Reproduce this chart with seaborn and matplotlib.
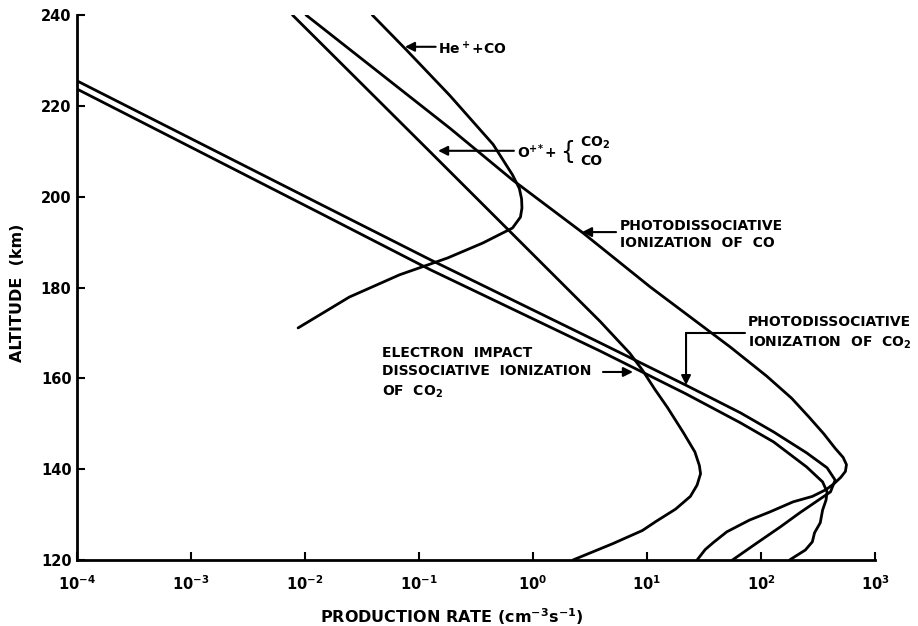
import numpy as np
import pandas as pd
import matplotlib
matplotlib.use("Agg")
import matplotlib.pyplot as plt
import seaborn as sns
from matplotlib.ticker import NullLocator

# production rates (cm^-3 s^-1) vs altitude (km)
he_rate = [0.0389, 0.0776, 0.186, 0.447, 0.661, 0.759, 0.794, 0.80, 0.776, 0.661, 0.363, 0.178, 0.0676, 0.0245, 0.0087]
he_alt = [240, 232.3, 222.3, 211.5, 204.8, 201.8, 199.5, 197.5, 195.5, 193.1, 189.8, 186.5, 182.8, 177.9, 171.1]

op_rate = [0.00776, 0.126, 3.89, 7.08, 9.12, 11.7, 15.1, 20.9, 26.3, 28.8, 29.5, 27.5, 24.0, 17.8, 12.0, 9.12, 5.01, 2.24]
op_alt = [240, 209.8, 172.5, 165.5, 161.8, 157.6, 153.6, 148.0, 143.8, 140.8, 139.0, 136.5, 134.0, 131.2, 128.5, 126.5, 123.6, 120]

co_rate = [0.0102, 0.186, 0.66, 2.75, 10.7, 53.7, 112, 186, 263, 355, 447, 525, 562, 550, 501, 437, 372,
           282, 191, 120, 79.4, 50.1, 38.0, 32.4, 27.5]
co_alt = [240, 215.1, 203.7, 192.0, 180.1, 166.9, 160.5, 155.6, 151.5, 147.8, 144.6, 142.6, 141.0, 139.5, 138.2, 136.8, 135.5,
          134.0, 132.8, 130.6, 128.8, 126.2, 123.8, 122.3, 120]

pco2_rate = [1e-4, 0.0135, 0.126, 3.89, 21.9, 66.1, 129, 251, 380, 447, 407, 219, 148, 89.1, 56.2]
pco2_alt = [225.5, 198.4, 186.1, 167.8, 158.5, 152.4, 148.2, 143.6, 140.3, 137.6, 135.0, 130.4, 127.3, 123.5, 120]

ei_rate = [1e-4, 0.0135, 0.126, 3.89, 21.9, 66.1, 129, 251, 347, 380, 372, 347, 331, 295, 282, 245, 178]
ei_alt = [223.7, 196.4, 183.9, 166.0, 156.6, 150.2, 146.0, 140.5, 137.2, 135.0, 133.2, 131.0, 128.2, 126.0, 124.0, 122.2, 120]

xticks = [1e-4, 1e-3, 1e-2, 1e-1, 1e0, 1e1, 1e2, 1e3]
yticks = [120, 140, 160, 180, 200, 220, 240]

curves = {
    "He+ + CO": (he_rate, he_alt),
    "O+ + CO2/CO": (op_rate, op_alt),
    "photodiss CO": (co_rate, co_alt),
    "photodiss CO2": (pco2_rate, pco2_alt),
    "e impact CO2": (ei_rate, ei_alt),
}
frames = []
for name, (rate, alt) in curves.items():
    frames.append(pd.DataFrame({"curve": name, "rate": rate, "alt": alt}))
df = pd.concat(frames, ignore_index=True)

sns.set_theme(style="ticks")
plt.rcParams["font.family"] = ["DejaVu Sans"]
plt.rcParams["font.weight"] = "bold"
plt.rcParams["text.color"] = "black"
plt.rcParams["axes.labelcolor"] = "black"
plt.rcParams["mathtext.fontset"] = "custom"
plt.rcParams["mathtext.rm"] = "DejaVu Sans:bold"
plt.rcParams["mathtext.it"] = "DejaVu Sans:bold"
plt.rcParams["mathtext.bf"] = "DejaVu Sans:bold"

fig = plt.figure(figsize=(9.18, 6.26), dpi=100)
ax = fig.add_axes([77 / 918, 1 - 560 / 626, 798 / 918, 545 / 626])
sns.lineplot(data=df, x="rate", y="alt", units="curve", estimator=None, sort=False,
             color="black", lw=2, ax=ax, legend=False)
ax.set_xscale("log")
ax.set_xlim(1e-4, 1e3)
ax.set_ylim(120, 240)
sns.despine(ax=ax)
for s in ["left", "bottom"]:
    ax.spines[s].set_linewidth(2)
    ax.spines[s].set_color("black")
ax.set_xticks(xticks)
ax.set_xticklabels([f"$10^{{{int(np.log10(v))}}}$" for v in xticks])
ax.xaxis.set_minor_locator(NullLocator())
ax.set_yticks(yticks)
ax.tick_params(axis="both", direction="in", length=6, width=1.5, labelsize=10.5, colors="black")
ax.tick_params(axis="x", pad=10)
ax.tick_params(axis="y", pad=4)

ax.set_xlabel("PRODUCTION RATE (cm$^{-3}$s$^{-1}$)", fontsize=11.5, fontweight="bold",
              va="center", ha="center")
ax.xaxis.set_label_coords(0.47, -0.1046)
ax.set_ylabel("ALTITUDE  (km)", fontsize=11.5, fontweight="bold", va="center", ha="center")
ax.yaxis.set_label_coords(-0.075, 0.49)

arrow = dict(arrowstyle="-|>", color="black", lw=1.5, mutation_scale=14, shrinkA=0, shrinkB=0)
fs = 10

# He+ + CO
ax.annotate("", xy=(0.0753, 233.0), xytext=(0.14, 233.0), arrowprops=arrow)
ax.text(0.147, 232.7, "He$^+$+CO", ha="left", va="center", fontsize=fs)

# O+ + {CO2, CO}
ax.annotate("", xy=(0.147, 210.1), xytext=(0.68, 210.1), arrowprops=arrow)
ax.text(0.724, 209.8, "O$^{+\\!*}$+", ha="left", va="center", fontsize=fs)
ax.text(1.72, 209.8, "{", ha="left", va="center", fontsize=17, fontweight="normal")
ax.text(2.6, 211.8, "CO$_2$", ha="left", va="center", fontsize=fs)
ax.text(2.6, 207.8, "CO", ha="left", va="center", fontsize=fs)

# photodissociative ionization of CO
ax.annotate("", xy=(2.69, 192.2), xytext=(5.35, 192.2), arrowprops=arrow)
ax.text(5.8, 191.6, "PHOTODISSOCIATIVE\nIONIZATION  OF  CO", ha="left", va="center",
        fontsize=fs, linespacing=1.3)

# photodissociative ionization of CO2
ax.plot([72.4, 22.0], [170.0, 170.0], color="black", lw=1.5)
ax.annotate("", xy=(22.0, 158.5), xytext=(22.0, 170.0), arrowprops=arrow)
ax.text(76.9, 169.9, "PHOTODISSOCIATIVE\nIONIZATION  OF  CO$_2$", ha="left", va="center",
        fontsize=fs, linespacing=1.45)

# electron impact
ax.annotate("", xy=(7.53, 161.4), xytext=(4.11, 161.4), arrowprops=arrow)
ax.text(0.0473, 161.2, "ELECTRON  IMPACT\nDISSOCIATIVE  IONIZATION\nOF  CO$_2$", ha="left",
        va="center", fontsize=fs, linespacing=1.45)

fig.savefig("out.png", dpi=100)
